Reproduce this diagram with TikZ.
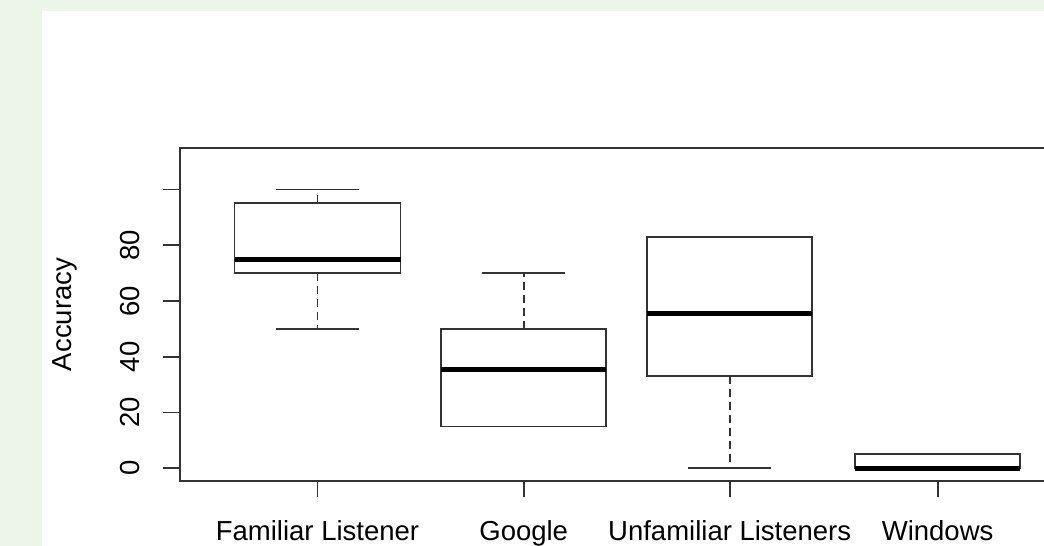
\documentclass[tikz,border=0pt]{standalone}
\usepackage{fontspec}
\setmainfont{Liberation Sans}
\definecolor{pagegreen}{RGB}{237,244,232}
\begin{document}
\begin{tikzpicture}[x=1pt,y=1pt,
            font=\fontsize{27.5}{33}\selectfont,
            axisline/.style={black!80,line width=1.9pt},
            boxline/.style={black!80,line width=1.9pt},
            medianline/.style={black,line width=5pt},
            whisker/.style={black!80,line width=1.9pt,dash pattern=on 8pt off 5pt},
            staple/.style={black!80,line width=1.9pt}]
            \useasboundingbox (0,0) rectangle (1044,546);
            \fill[pagegreen] (0,0) rectangle (1044,546);
            \fill[white] (42,0) rectangle (1044,535);
            % plot frame (right side runs off the page)
            \draw[axisline] (1044,398) -- (180,398) -- (180,65) -- (1044,65);
            % group axis
            \foreach \cx/\name in {317.5/Familiar Listener,523.7/Google,729.7/Unfamiliar Listeners,937.6/Windows} {
              \draw[axisline] (\cx,65) -- (\cx,48.7);
              \node[anchor=base,inner sep=0pt] (lab-\cx) at (\cx,5) {\name};
            }
            \node[rotate=90,inner sep=0pt] (ylab) at (65,231.5) {Accuracy};
            \begin{scope}[yshift=77.7pt,y=2.788pt]
              % value axis
              \foreach \v in {0,20,...,100}
                \draw[axisline] (180,\v) -- (163,\v);
              \foreach \v in {0,20,...,80}
                \node[rotate=90,inner sep=0pt] (tick\v) at (130,\v) {\v};
              % Familiar Listener
              \draw[whisker] (317.5,95) -- (317.5,100);
              \draw[whisker] (317.5,70) -- (317.5,50);
              \draw[staple] (276,100) -- (359,100);
              \draw[staple] (276,50) -- (359,50);
              \draw[boxline] (234.5,70) rectangle (400.5,95);
              \draw[medianline] (234.5,75) -- (400.5,75);
              % Google
              \draw[whisker] (523.7,50) -- (523.7,70);
              \draw[staple] (482.2,70) -- (565.2,70);
              \draw[boxline] (441.2,15) rectangle (606.2,50);
              \draw[medianline] (441.2,35.4) -- (606.2,35.4);
              % Unfamiliar Listeners
              \draw[whisker] (729.7,33) -- (729.7,0);
              \draw[staple] (688.2,0) -- (771.2,0);
              \draw[boxline] (647.2,33) rectangle (812.2,83);
              \draw[medianline] (647.2,55.7) -- (812.2,55.7);
              % Windows
              \draw[staple] (896.1,0) -- (979.1,0);
              \draw[boxline] (855.1,0) rectangle (1020.1,5);
              \draw[medianline] (855.1,0) -- (1020.1,0);
            \end{scope}
        \end{tikzpicture}
\end{document}
